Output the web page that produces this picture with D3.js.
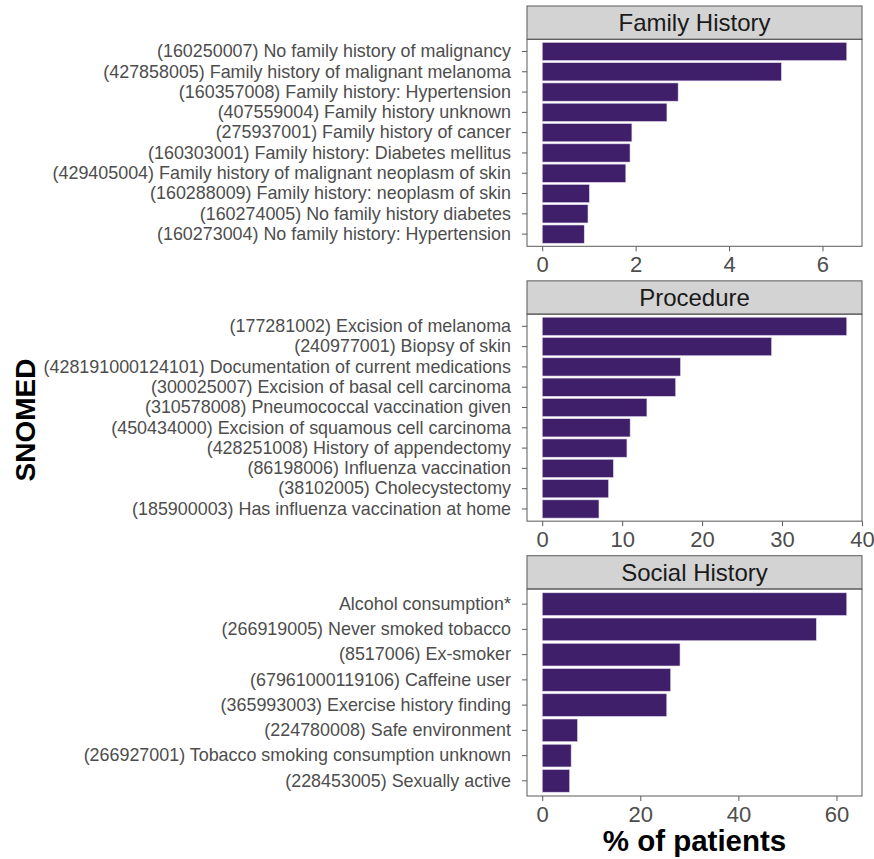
<!DOCTYPE html>
<html>
<head>
<meta charset="utf-8">
<script src="https://cdn.jsdelivr.net/npm/d3@7"></script>
<style>
  html, body { margin: 0; padding: 0; background: #ffffff; }
  svg { display: block; font-family: "Liberation Sans", Arial, Helvetica, sans-serif; }
</style>
</head>
<body>
<svg id="chart" width="874" height="859"></svg>
<script>
// Facet titles
const facets = ["Family History", "Procedure", "Social History"];

// Family History: SNOMED concepts and % of patients
const familyLabels = [
  "(160250007) No family history of malignancy",
  "(427858005) Family history of malignant melanoma",
  "(160357008) Family history: Hypertension",
  "(407559004) Family history unknown",
  "(275937001) Family history of cancer",
  "(160303001) Family history: Diabetes mellitus",
  "(429405004) Family history of malignant neoplasm of skin",
  "(160288009) Family history: neoplasm of skin",
  "(160274005) No family history diabetes",
  "(160273004) No family history: Hypertension"
];
const familyValues = [6.52, 5.12, 2.91, 2.67, 1.92, 1.88, 1.79, 1.01, 0.98, 0.90];
const familyTicks = [0, 2, 4, 6];

// Procedure
const procedureLabels = [
  "(177281002) Excision of melanoma",
  "(240977001) Biopsy of skin",
  "(428191000124101) Documentation of current medications",
  "(300025007) Excision of basal cell carcinoma",
  "(310578008) Pneumococcal vaccination given",
  "(450434000) Excision of squamous cell carcinoma",
  "(428251008) History of appendectomy",
  "(86198006) Influenza vaccination",
  "(38102005) Cholecystectomy",
  "(185900003) Has influenza vaccination at home"
];
const procedureValues = [38.1, 28.7, 17.3, 16.7, 13.1, 11.0, 10.6, 8.9, 8.3, 7.1];
const procedureTicks = [0, 10, 20, 30, 40];

// Social History
const socialLabels = [
  "Alcohol consumption*",
  "(266919005) Never smoked tobacco",
  "(8517006) Ex-smoker",
  "(67961000119106) Caffeine user",
  "(365993003) Exercise history finding",
  "(224780008) Safe environment",
  "(266927001) Tobacco smoking consumption unknown",
  "(228453005) Sexually active"
];
const socialValues = [62.1, 55.9, 28.1, 26.2, 25.4, 7.2, 5.9, 5.6];
const socialTicks = [0, 20, 40, 60];

const panels = [
  { title: facets[0], labels: familyLabels, values: familyValues, ticks: familyTicks },
  { title: facets[1], labels: procedureLabels, values: procedureValues, ticks: procedureTicks },
  { title: facets[2], labels: socialLabels, values: socialValues, ticks: socialTicks }
];

// Layout
const panelLeft = 527, panelRight = 862;
const firstTop = 6, stripH = 33.3, panelH = 207, facetStep = 274.85;
const barFill = "#3f1f69";
const frameColor = "#5a5a5a";
const axisTextColor = "#4d4d4d";

const svg = d3.select("#chart");

panels.forEach((p, i) => {
  const stripTop = firstTop + i * facetStep;
  const top = stripTop + stripH;
  const bottom = top + panelH;
  const g = svg.append("g");

  const maxV = d3.max(p.values);
  const x = d3.scaleLinear()
    .domain([-0.05 * maxV, 1.05 * maxV])
    .range([panelLeft, panelRight]);

  const y = d3.scaleBand()
    .domain(p.labels)
    .range([top, bottom])
    .paddingInner(0.1)
    .paddingOuter(0.15);

  // strip
  g.append("rect")
    .attr("x", panelLeft).attr("y", stripTop)
    .attr("width", panelRight - panelLeft).attr("height", stripH)
    .attr("fill", "#d3d3d3").attr("stroke", frameColor).attr("stroke-width", 1);
  g.append("text")
    .attr("x", (panelLeft + panelRight) / 2)
    .attr("y", stripTop + stripH / 2)
    .attr("dy", "0.36em")
    .attr("text-anchor", "middle")
    .attr("font-size", 24)
    .attr("fill", "#1a1a1a")
    .text(p.title);

  // bars
  g.selectAll("rect.bar")
    .data(p.values.map((v, k) => ({ v, label: p.labels[k] })))
    .join("rect")
    .attr("class", "bar")
    .attr("x", x(0))
    .attr("y", d => y(d.label))
    .attr("width", d => x(d.v) - x(0))
    .attr("height", y.bandwidth())
    .attr("fill", barFill)
    .attr("stroke", "#e4dcef")
    .attr("stroke-width", 0.6);

  // panel border
  g.append("rect")
    .attr("x", panelLeft).attr("y", top)
    .attr("width", panelRight - panelLeft).attr("height", panelH)
    .attr("fill", "none").attr("stroke", frameColor).attr("stroke-width", 1);

  // y axis
  const yAxis = g.append("g")
    .attr("transform", `translate(${panelLeft},0)`)
    .call(d3.axisLeft(y).tickSizeOuter(0).tickSize(5).tickPadding(11));
  yAxis.select(".domain").remove();
  yAxis.selectAll(".tick line").attr("stroke", frameColor);
  yAxis.selectAll(".tick text")
    .attr("font-size", 17.9)
    .attr("font-family", "Liberation Sans, Arial, sans-serif")
    .attr("fill", axisTextColor);

  // x axis
  const xAxis = g.append("g")
    .attr("transform", `translate(0,${bottom})`)
    .call(d3.axisBottom(x).tickValues(p.ticks).tickFormat(d3.format("d"))
      .tickSizeOuter(0).tickSize(5).tickPadding(5));
  xAxis.select(".domain").remove();
  xAxis.selectAll(".tick line").attr("stroke", frameColor);
  xAxis.selectAll(".tick text")
    .attr("font-size", 22)
    .attr("font-family", "Liberation Sans, Arial, sans-serif")
    .attr("fill", axisTextColor);
});

// axis titles
svg.append("text")
  .attr("transform", "translate(35,420) rotate(-90)")
  .attr("text-anchor", "middle")
  .attr("font-size", 28)
  .attr("font-weight", "bold")
  .attr("fill", "#000")
  .text("SNOMED");

svg.append("text")
  .attr("x", (panelLeft + panelRight) / 2)
  .attr("y", 851)
  .attr("text-anchor", "middle")
  .attr("font-size", 29.5)
  .attr("font-weight", "bold")
  .attr("fill", "#000")
  .text("% of patients");
</script>
</body>
</html>
